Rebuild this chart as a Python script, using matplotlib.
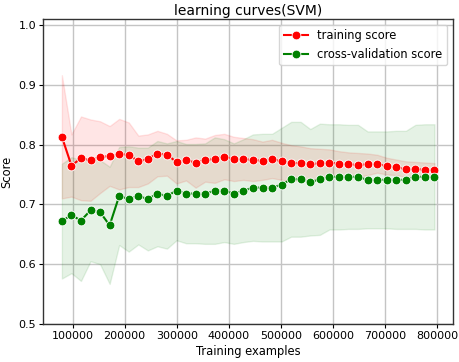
import matplotlib
matplotlib.use("Agg")
import matplotlib.pyplot as plt
import numpy as np

train_sizes = [79500, 97846, 116192, 134538, 152885, 171231, 189577, 207923, 226269, 244615,
               262962, 281308, 299654, 318000, 336346, 354692, 373038, 391385, 409731, 428077,
               446423, 464769, 483115, 501462, 519808, 538154, 556500, 574846, 593192, 611538,
               629885, 648231, 666577, 684923, 703269, 721615, 739962, 758308, 776654, 795000]

train_mean = [0.813, 0.765, 0.777, 0.774, 0.779, 0.781, 0.784, 0.783, 0.772, 0.776,
              0.785, 0.783, 0.771, 0.774, 0.770, 0.774, 0.776, 0.780, 0.776, 0.776,
              0.774, 0.773, 0.776, 0.772, 0.769, 0.769, 0.767, 0.769, 0.770, 0.768,
              0.767, 0.766, 0.767, 0.768, 0.764, 0.762, 0.759, 0.759, 0.758, 0.758]
train_std = [0.103, 0.052, 0.070, 0.068, 0.060, 0.050, 0.059, 0.054, 0.043, 0.041,
             0.038, 0.035, 0.036, 0.034, 0.042, 0.036, 0.040, 0.038, 0.037, 0.035,
             0.035, 0.032, 0.032, 0.031, 0.030, 0.028, 0.027, 0.024, 0.022, 0.021,
             0.020, 0.020, 0.018, 0.015, 0.014, 0.013, 0.013, 0.012, 0.012, 0.011]

test_mean = [0.672, 0.682, 0.673, 0.690, 0.687, 0.665, 0.714, 0.709, 0.714, 0.709,
             0.718, 0.714, 0.723, 0.718, 0.718, 0.718, 0.723, 0.723, 0.718, 0.723,
             0.728, 0.728, 0.728, 0.733, 0.742, 0.742, 0.737, 0.742, 0.746, 0.746,
             0.746, 0.746, 0.741, 0.741, 0.741, 0.741, 0.741, 0.746, 0.746, 0.746]
test_std = [0.096, 0.097, 0.101, 0.085, 0.087, 0.098, 0.082, 0.088, 0.081, 0.086,
            0.088, 0.088, 0.083, 0.083, 0.083, 0.084, 0.089, 0.086, 0.084, 0.086,
            0.089, 0.090, 0.090, 0.095, 0.096, 0.096, 0.089, 0.093, 0.088, 0.088,
            0.087, 0.087, 0.081, 0.081, 0.081, 0.082, 0.082, 0.087, 0.088, 0.088]

x = np.array(train_sizes)
tm, ts = np.array(train_mean), np.array(train_std)
vm, vs = np.array(test_mean), np.array(test_std)

fig = plt.figure(figsize=(4.6, 3.62), dpi=100)
ax = fig.add_axes([0.094, 0.105, 0.891, 0.8425])

ax.fill_between(x, tm - ts, tm + ts, alpha=0.1, color="r")
ax.fill_between(x, vm - vs, vm + vs, alpha=0.1, color="g")
ax.plot(x, tm, "o-", color="r", label="training score", lw=1.5, ms=6.3, mec="w", mew=0.6)
ax.plot(x, vm, "o-", color="g", label="cross-validation score", lw=1.5, ms=6.3, mec="w", mew=0.6)

ax.set_ylim(0.5, 1.01)
ax.set_xticks([100000, 200000, 300000, 400000, 500000, 600000, 700000, 800000])
ax.set_yticks([0.5, 0.6, 0.7, 0.8, 0.9, 1.0])
ax.grid(True, color="#c4c4c4", lw=1)
ax.set_axisbelow(True)
ax.tick_params(labelsize=8, length=3, width=0.8, pad=2)
for s in ax.spines.values():
    s.set_color("#333333")
    s.set_linewidth(1)
ax.set_title("learning curves(SVM)", fontsize=10, pad=3)
ax.set_xlabel("Training examples", fontsize=8.3, labelpad=3)
ax.set_ylabel("Score", fontsize=8.3, labelpad=4)
ax.legend(loc="upper right", fontsize=8.3, framealpha=0.8, borderpad=0.4,
          handlelength=2.1, labelspacing=0.45)

fig.savefig("out.png", dpi=100)
